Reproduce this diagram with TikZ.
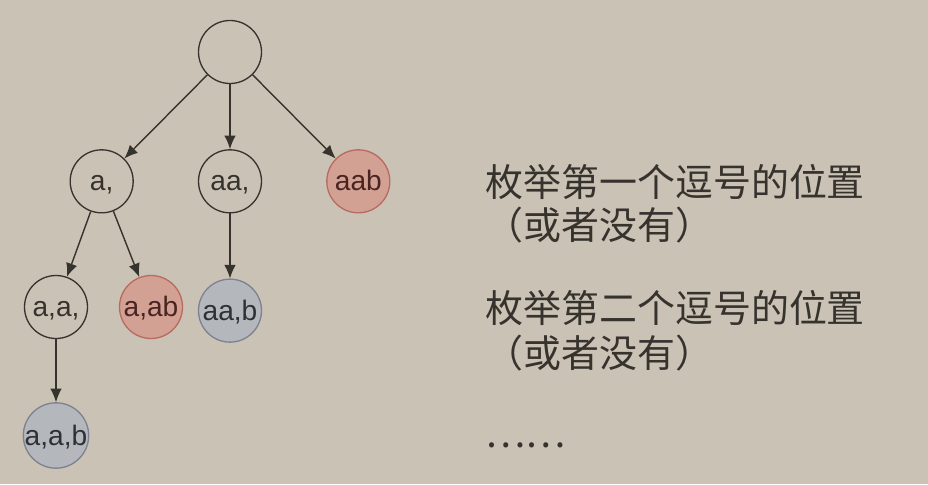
\documentclass[tikz,border=0pt]{standalone}
\usepackage{fontspec}
\setsansfont{Liberation Sans}
\newfontfamily\cjk{Noto Sans CJK SC}
\usetikzlibrary{arrows.meta,positioning}
\definecolor{bg}{HTML}{CAC3B5}
\definecolor{ink}{HTML}{36322D}
\definecolor{hit}{HTML}{D3A094}
\definecolor{hitline}{HTML}{B86B60}
\definecolor{hittext}{HTML}{4A2420}
\definecolor{done}{HTML}{B4B8BC}
\definecolor{doneline}{HTML}{7D8192}
\definecolor{donetext}{HTML}{2D3237}

\begin{document}
\begin{tikzpicture}[
  x=0.2mm,y=-0.2mm,
  font=\sffamily,
  state/.style={circle,draw=ink,line width=.75pt,minimum size=12.6mm,inner sep=0pt,text height=11pt,text depth=0pt,text=ink,font=\sffamily\fontsize{16}{16}\selectfont},
  bad/.style={state,fill=hit,draw=hitline,text=hittext},
  full/.style={state,fill=done,draw=doneline,text=donetext},
  arr/.style={-{Latex[length=2.7mm,width=2.3mm]},line width=.8pt,draw=ink},
  note/.style={anchor=west,inner sep=0pt,text=ink,font=\cjk\fontsize{21.6}{26}\selectfont}
]
\fill[bg] (0,0) rectangle (928,484);

\node[state] (root) at (230,52) {};
\node[state,below=13mm of root] (aa) {aa,};
\node[state,left=12.8mm of aa] (a) {a,};
\node[bad,right=12.8mm of aa] (aab) {aab};
\node[state] (aXa) at (56,307) {a,a,};
\node[bad] (aXab) at (151,307) {a,ab};
\node[full,below=13mm of aa] (aaXb) {aa,b};
\node[full,below=12.6mm of aXa] (aXaXb) {a,a,b};

\draw[arr] (root) -- (a);
\draw[arr] (root) -- (aa);
\draw[arr] (root) -- (aab);
\draw[arr] (a) -- (aXa);
\draw[arr] (a) -- (aXab);
\draw[arr] (aa) -- (aaXb);
\draw[arr] (aXa) -- (aXaXb);

\node[note] (first) at (485,182) {枚举第一个逗号的位置};
\node[note] (firstnone) at (485,225) {（或者没有）};
\node[note] (second) at (485,308) {枚举第二个逗号的位置};
\node[note] (secondnone) at (485,353) {（或者没有）};
\node[note] (more) at (485,445) {……};
\end{tikzpicture}
\end{document}
